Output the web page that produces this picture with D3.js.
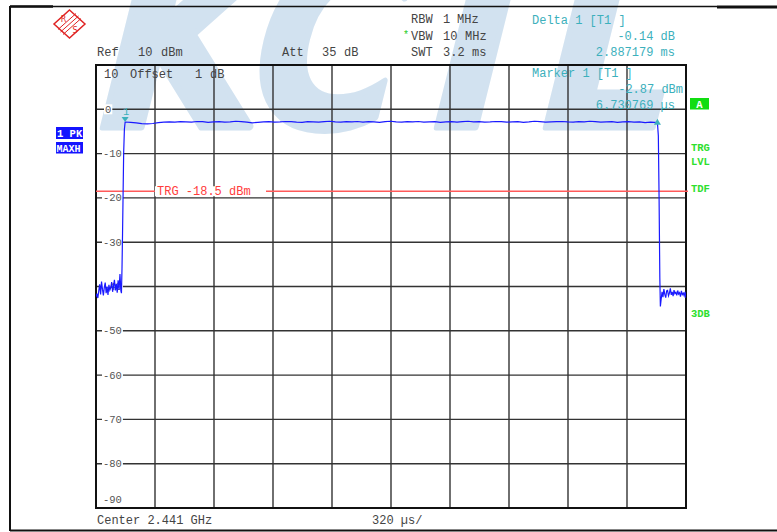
<!DOCTYPE html>
<html><head><meta charset="utf-8">
<script src="https://cdn.jsdelivr.net/npm/d3@7"></script>
<style>
html,body{margin:0;padding:0;background:#fff;}
svg{display:block;}
text{font-family:"Liberation Mono","DejaVu Sans Mono",monospace;}
</style>
</head><body>
<svg id="c" width="777" height="532"></svg>
<script>
// ---------------- data ----------------
const sweepSpanUs = 3200;                 // 10 div x 320 us/div
const gridTimesUs = [0, 320, 640, 960, 1280, 1600, 1920, 2240, 2560, 2880, 3200];
const levelTicksDb = [10, 0, -10, -20, -30, -40, -50, -60, -70, -80, -90];
const levelLabels = ["0", "-10", "-20", "-30", "-40", "-50", "-60", "-70", "-80", "-90"];
const triggerLevelDbm = -18.5;

// noise before the burst, samples every 5 us from 0 us
const preBurstStartUs = 0, preBurstStepUs = 5;
const preBurstDbm = [-42.3,-41.6,-42.6,-41.0,-39.5,-41.8,-38.9,-40.6,-42.0,-40.2,-39.1,-41.5,-40.0,-41.9,
  -39.6,-40.8,-40.3,-39.0,-41.2,-39.8,-38.5,-40.9,-39.4,-41.4,-38.6,-40.7,-37.2,-41.0];
// rising edge
const riseTimesUs = [138, 141, 144, 147, 150, 154];
const riseDbm = [-41.5, -36, -28, -19, -10, -4.5];
// marker 1
const marker1Us = 158, marker1Dbm = -2.87;
// burst plateau, samples every 30 us from marker 1
const plateauStartUs = 158, plateauStepUs = 30;
const plateauDbm = [-2.87,
  -2.95,-3.05,-3.25,-3.3,-3.2,-3.0,-2.9,-2.85,-2.9,
  -2.8,-2.85,-2.9,-2.75,-2.8,-2.95,-2.85,-2.8,-2.9,-2.85,
  -2.7,-2.8,-2.9,-3.05,-2.95,-2.85,-2.8,-2.9,-2.85,-2.75,
  -2.8,-2.9,-2.95,-2.8,-2.85,-2.9,-2.8,-2.7,-2.85,-2.9,
  -2.8,-2.85,-2.75,-2.9,-2.8,-2.85,-2.95,-2.8,-2.7,-2.85,
  -2.9,-2.8,-2.85,-2.75,-2.9,-2.85,-2.8,-2.95,-2.85,-2.8,
  -2.9,-2.8,-2.7,-2.85,-2.8,-2.9,-2.85,-2.75,-2.8,-2.9,
  -2.85,-2.8,-2.95,-2.85,-2.7,-2.8,-2.9,-2.85,-2.8,-2.75,
  -2.85,-2.9,-2.8,-2.85,-2.7,-2.8,-2.9,-2.85,-2.8,-2.95,
  -2.85,-2.8,-2.9,-2.85,-3.0,-2.9];
// delta marker (D1 relative to marker 1)
const delta1Us = 3045, delta1Dbm = -3.01;
// falling edge
const fallTimesUs = [3050, 3054, 3058, 3061];
const fallDbm = [-6, -20, -38, -44.5];
// noise after the burst, samples every 5 us
const postBurstStartUs = 3065, postBurstStepUs = 5;
const postBurstDbm = [-43.0,-41.2,-42.4,-40.6,-41.8,-42.5,-41.0,-40.9,-42.1,-41.5,-40.4,-41.9,-41.2,-42.2,
  -40.8,-41.6,-41.3,-42.0,-40.9,-41.7,-41.4,-42.3,-41.0,-41.8,-41.5,-42.1,-41.2,-42.6];

// ---------------- build trace ----------------
const trace = [];
preBurstDbm.forEach((v,i)=>trace.push([preBurstStartUs + i*preBurstStepUs, v]));
riseDbm.forEach((v,i)=>trace.push([riseTimesUs[i], v]));
plateauDbm.forEach((v,i)=>trace.push([plateauStartUs + i*plateauStepUs, v]));
trace.push([delta1Us, delta1Dbm]);
fallDbm.forEach((v,i)=>trace.push([fallTimesUs[i], v]));
postBurstDbm.forEach((v,i)=>trace.push([Math.min(sweepSpanUs, postBurstStartUs + i*postBurstStepUs), v]));

// ---------------- drawing ----------------
const svg = d3.select("#c");
const L = 96, R = 686, T = 65, B = 508;
const x = d3.scaleLinear().domain([0, sweepSpanUs]).range([L, R]);
const y = d3.scaleLinear().domain([-90, 10]).range([B, T]);

// watermark (clipped to the page, as in the reference)
svg.append("clipPath").attr("id","page").append("rect").attr("x",0).attr("y",0).attr("width",777).attr("height",532);
svg.append("g").attr("clip-path","url(#page)").append("text").text("KCTL")
  .attr("transform", "translate(84,127) skewX(-14) scale(0.86,1)")
  .style("font-family", "'DejaVu Sans'").style("font-weight", "bold")
  .style("font-size", "240px").attr("fill", "#d2e2f0")
  .attr("stroke", "#d2e2f0").attr("stroke-width", 7).attr("stroke-linejoin","round");

// outer frame
svg.append("line").attr("x1",10).attr("x2",717).attr("y1",6.5).attr("y2",6.5).attr("stroke","#111").attr("stroke-width",1.5);
svg.append("line").attr("x1",10).attr("x2",53).attr("y1",6.5).attr("y2",6.5).attr("stroke","#111").attr("stroke-width",2.5);
svg.append("line").attr("x1",717).attr("x2",777).attr("y1",7).attr("y2",7).attr("stroke","#111").attr("stroke-width",3);
svg.append("line").attr("x1",10).attr("x2",10).attr("y1",6).attr("y2",531).attr("stroke","#111").attr("stroke-width",2);
svg.append("line").attr("x1",10).attr("x2",777).attr("y1",530.5).attr("y2",530.5).attr("stroke","#111").attr("stroke-width",2);

// R&S logo
const logo = svg.append("g").attr("transform","translate(69.5,24)");
logo.append("path").attr("d","M0,-14 L15.5,0 L0,14 L-15.5,0 Z").attr("fill","none").attr("stroke","#e02424").attr("stroke-width",1.5);
[-2.5,0,2.5].forEach(o=>{
  logo.append("line").attr("x1",-9+o).attr("y1",8+o).attr("x2",9+o).attr("y2",-8+o)
    .attr("stroke","#e02424").attr("stroke-width",1);
});
logo.append("text").text("R").attr("x",-6).attr("y",-2).attr("font-size",8).attr("fill","#e02424").attr("text-anchor","middle").style("font-family","'DejaVu Sans'");
logo.append("text").text("S").attr("x",5.5).attr("y",9).attr("font-size",8).attr("fill","#e02424").attr("text-anchor","middle").style("font-family","'DejaVu Sans'");

// grid
const grid = svg.append("g");
grid.selectAll("line.h").data(levelTicksDb.slice(1, -1)).join("line")
  .attr("x1",L).attr("x2",R).attr("y1",d=>y(d)).attr("y2",d=>y(d))
  .attr("stroke","#333").attr("stroke-width",1.4);
grid.selectAll("line.v").data(gridTimesUs.slice(1, -1)).join("line")
  .attr("x1",d=>x(d)).attr("x2",d=>x(d)).attr("y1",T).attr("y2",B)
  .attr("stroke","#333").attr("stroke-width",1.4);

// level labels (with white gaps)
const lab = svg.append("g");
levelLabels.forEach((s,i)=>{
  const v = levelTicksDb[i+1];
  const yy = (v === -90) ? 499 : y(v);
  const g = lab.append("g");
  g.append("text").text(s).attr("x", s === "0" ? 105 : 103).attr("y", yy + 3.5)
    .attr("font-size", 10.5).attr("fill", "#555");
  if (v !== -90) {
    const w = s.length * 6.3;
    g.insert("rect","text").attr("x", (s === "0" ? 105 : 103) - 1).attr("y", yy - 5).attr("width", w + 2).attr("height", 10).attr("fill","#fff");
  }
});

// plot border
svg.append("rect").attr("x",L).attr("y",T).attr("width",R-L).attr("height",B-T)
  .attr("fill","none").attr("stroke","#111").attr("stroke-width",2);

// trigger line
svg.append("line").attr("x1",L).attr("x2",R+2).attr("y1",y(triggerLevelDbm)).attr("y2",y(triggerLevelDbm))
  .attr("stroke","#ff5a5a").attr("stroke-width",1.5);
svg.append("rect").attr("x",155).attr("y",y(triggerLevelDbm)-5).attr("width",111).attr("height",10).attr("fill","#fff");
svg.append("text").text("TRG -18.5 dBm").attr("x",157).attr("y",y(triggerLevelDbm)+4)
  .attr("font-size",12).attr("fill","#ff3c3c");

// trace
svg.append("clipPath").attr("id","clip").append("rect").attr("x",L).attr("y",T).attr("width",R-L).attr("height",B-T);
svg.append("path").datum(trace)
  .attr("clip-path","url(#clip)")
  .attr("d", d3.line().x(d=>x(d[0])).y(d=>y(d[1])))
  .attr("fill","none").attr("stroke","#1a1aff").attr("stroke-width",1.2);

// markers
const teal = "#3cb0bc";
const mx = x(marker1Us), my = y(marker1Dbm);
svg.append("path").attr("d",`M${mx-3.5},${my-5} L${mx+3.5},${my-5} L${mx},${my} Z`).attr("fill",teal);
svg.append("text").text("1").attr("x",mx+1).attr("y",my-7).attr("font-size",10.5).attr("fill",teal).attr("text-anchor","middle");
const dx = x(delta1Us), dy = y(delta1Dbm);
svg.append("path").attr("d",`M${dx-3.5},${dy+2} L${dx+3.5},${dy+2} L${dx},${dy-4} Z`).attr("fill",teal);

// header text
const txt = (s, xx, yy, opts={}) => {
  const t = svg.append("text").text(s).attr("x",xx).attr("y",yy)
    .attr("font-size", opts.size || 12).attr("fill", opts.fill || "#444")
    .attr("text-anchor", opts.anchor || "start");
  if (opts.weight) t.attr("font-weight", opts.weight);
  return t;
};
txt("Ref", 97, 56); txt("10", 138, 56); txt("dBm", 161, 56);
txt("Att", 282, 56); txt("35", 322, 56); txt("dB", 344, 56);
txt("RBW", 411, 23); txt("1", 443, 23); txt("MHz", 457, 23);
txt("*", 403, 38, {fill:"#22cc22", size:10});
txt("VBW", 411, 39.5); txt("10", 443, 39.5); txt("MHz", 465, 39.5);
txt("SWT", 411, 55.5); txt("3.2", 443, 55.5); txt("ms", 472, 55.5);
txt("10", 104, 78); txt("Offset", 130, 78); txt("1", 195, 78); txt("dB", 210, 78);

txt("Delta 1 [T1 ]", 532, 24, {fill:teal});
txt("-0.14 dB", 675, 39.5, {fill:teal, anchor:"end"});
txt("2.887179 ms", 675, 55.5, {fill:teal, anchor:"end"});
txt("Marker 1 [T1 ]", 532, 77, {fill:teal});
txt("-2.87 dBm", 683, 93, {fill:teal, anchor:"end"});
txt("6.730769 µs", 675, 108.5, {fill:teal, anchor:"end"});

// side annotations
svg.append("rect").attr("x",690).attr("y",98).attr("width",19).attr("height",11.5).attr("fill","#11dd11");
txt("A", 699.5, 107.5, {fill:"#fff", size:10.5, weight:"bold", anchor:"middle"});
const green = "#2ee02e";
txt("TRG", 691, 150.5, {fill:green, size:10.5, weight:"bold"});
txt("LVL", 691, 164.5, {fill:green, size:10.5, weight:"bold"});
txt("TDF", 691, 192, {fill:green, size:10.5, weight:"bold"});
txt("3DB", 691, 317, {fill:green, size:10.5, weight:"bold"});

svg.append("rect").attr("x",56).attr("y",127).attr("width",27).attr("height",12).attr("fill","#1414ff");
txt("1 PK", 57, 136.5, {fill:"#fff", size:10.5, weight:"bold"});
svg.append("rect").attr("x",56).attr("y",142).attr("width",27).attr("height",11.5).attr("fill","#1414ff");
txt("MAXH", 56.5, 151.5, {fill:"#fff", size:10, weight:"bold"});

// footer
txt("Center 2.441 GHz", 97, 524);
txt("320 µs/", 372, 524);
</script>
</body></html>
